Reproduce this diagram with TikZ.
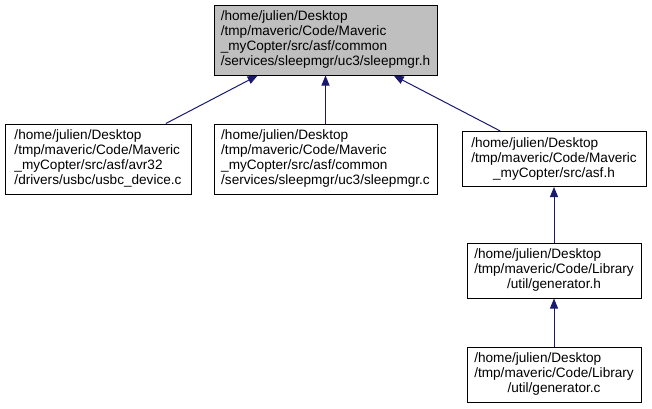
\documentclass[tikz,border=0pt]{standalone}
\usepackage{fontspec}
\setmainfont{Liberation Sans}
\usetikzlibrary{arrows.meta}
\definecolor{edgeblue}{HTML}{191970}
\definecolor{focusgray}{HTML}{BFBFBF}
\newcommand{\lbl}[2]{{\fontsize{10.2}{11.25}\selectfont\begin{tabular}{@{}l@{}}#1\\\multicolumn{1}{@{}c@{}}{#2}\end{tabular}}}
\tikzset{
  filebox/.style 2 args={draw=black, line width=0.75pt, fill=white, inner sep=0pt,
    minimum width=#1*0.75pt, minimum height=#2*0.75pt},
  dep/.style={draw=edgeblue, line width=0.75pt, {Triangle[length=7.5pt,width=6pt]}-}
}
\begin{document}
\begin{tikzpicture}[x=0.75pt,y=-0.75pt]
\useasboundingbox (0,0) rectangle (652,408);
\node[filebox={223}{70}, fill=focusgray] (T) at (325.5,40)
  {\lbl{/home/julien/Desktop\\/tmp/maveric/Code/Maveric\\\_myCopter/src/asf/common}{/services/sleepmgr/uc3/sleepmgr.h}};
\node[filebox={186}{70}] (L) at (98,159)
  {\lbl{/home/julien/Desktop\\/tmp/maveric/Code/Maveric\\\_myCopter/src/asf/avr32}{/drivers/usbc/usbc\_device.c}};
\node[filebox={223}{70}] (M) at (325.5,159)
  {\lbl{/home/julien/Desktop\\/tmp/maveric/Code/Maveric\\\_myCopter/src/asf/common}{/services/sleepmgr/uc3/sleepmgr.c}};
\node[filebox={184}{55}] (A) at (554,159)
  {\lbl{/home/julien/Desktop\\/tmp/maveric/Code/Maveric}{\_myCopter/src/asf.h}};
\node[filebox={174}{55}] (GH) at (554,270.5)
  {\lbl{/home/julien/Desktop\\/tmp/maveric/Code/Library}{/util/generator.h}};
\node[filebox={174}{55}] (GC) at (554,374.5)
  {\lbl{/home/julien/Desktop\\/tmp/maveric/Code/Library}{/util/generator.c}};
\draw[dep] (T) -- (L);
\draw[dep] (T) -- (M);
\draw[dep] (T) -- (A);
\draw[dep] (A) -- (GH);
\draw[dep] (GH) -- (GC);
\end{tikzpicture}
\end{document}
